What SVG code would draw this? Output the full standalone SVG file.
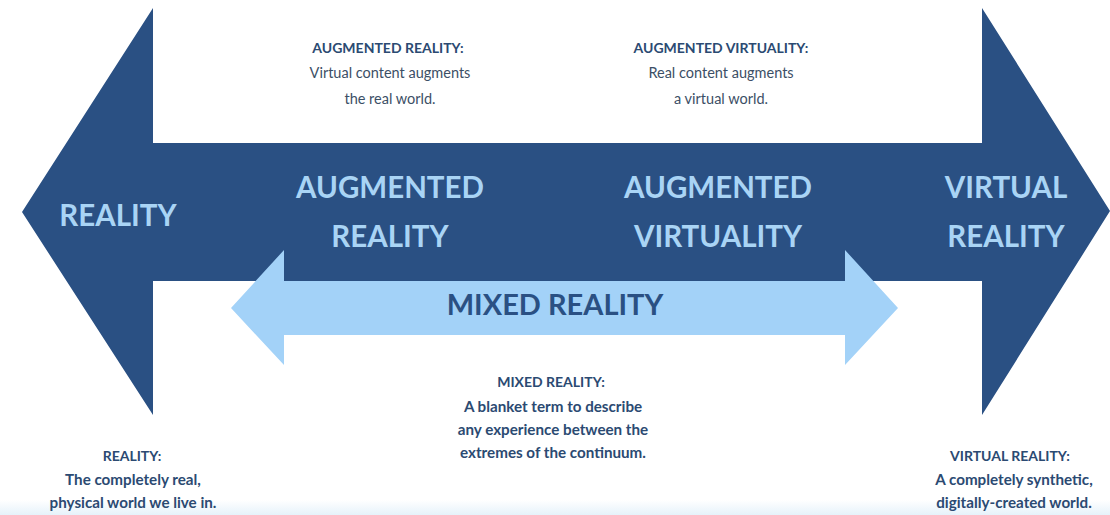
<svg xmlns="http://www.w3.org/2000/svg" width="1110" height="515" viewBox="0 0 1110 515">
<defs>
<linearGradient id="band" x1="0" y1="0" x2="0" y2="1">
<stop offset="0" stop-color="#ffffff"/>
<stop offset="1" stop-color="#e6f2fa"/>
</linearGradient>
</defs>
<style>
.big{font-family:Lato,"Liberation Sans",sans-serif;font-weight:700;font-size:29.5px;fill:#a9d4f5;text-anchor:middle}
.mid{font-family:Lato,"Liberation Sans",sans-serif;font-weight:700;font-size:29px;fill:#2a5083;text-anchor:middle}
.desc{font-family:Lato,"Liberation Sans",sans-serif;font-weight:700;font-size:14px;fill:#2b4a72;text-anchor:middle}
.line{font-family:Lato,"Liberation Sans",sans-serif;font-weight:700;font-size:15.2px;fill:#2b4a72;text-anchor:middle}
.body{font-family:Lato,"Liberation Sans",sans-serif;font-weight:400;font-size:14.5px;fill:#3c4f66;text-anchor:middle}
</style>
<rect x="0" y="0" width="1110" height="515" fill="#ffffff"/>
<rect x="0" y="500" width="1110" height="15" fill="url(#band)"/>
<g id="connectors">
<polygon id="continuum" points="22,212 153,8 153,143 982,143 982,8 1110,211 982,415 982,281 153,281 153,415" fill="#2a5083"/>
<polygon id="mixed-arrow" points="231,308 284,250 284,281 845,281 845,250 898,308 845,365 845,335 284,335 284,365" fill="#a3d2f8"/>
</g>
<g id="node-reality">
<text class="big" x="118" y="226">REALITY</text>
</g>
<g id="node-ar">
<text class="big" x="390" y="198">AUGMENTED</text>
<text class="big" x="390" y="247">REALITY</text>
</g>
<g id="node-av">
<text class="big" x="718" y="198">AUGMENTED</text>
<text class="big" x="718" y="247">VIRTUALITY</text>
</g>
<g id="node-vr">
<text class="big" x="1006" y="198">VIRTUAL</text>
<text class="big" x="1006" y="247">REALITY</text>
</g>
<g id="node-mr">
<text class="mid" x="555" y="315">MIXED REALITY</text>
</g>
<g id="desc-ar">
<text class="desc" x="388" y="53">AUGMENTED REALITY:</text>
<text class="body" x="390" y="78">Virtual content augments</text>
<text class="body" x="390" y="104">the real world.</text>
</g>
<g id="desc-av">
<text class="desc" x="721" y="53">AUGMENTED VIRTUALITY:</text>
<text class="body" x="721" y="78">Real content augments</text>
<text class="body" x="721" y="104">a virtual world.</text>
</g>
<g id="desc-mr">
<text class="desc" x="551" y="387">MIXED REALITY:</text>
<text class="line" x="553" y="412">A blanket term to describe</text>
<text class="line" x="553" y="435">any experience between the</text>
<text class="line" x="553" y="458">extremes of the continuum.</text>
</g>
<g id="desc-reality">
<text class="desc" x="132" y="461">REALITY:</text>
<text class="line" x="133" y="485">The completely real,</text>
<text class="line" x="133" y="508">physical world we live in.</text>
</g>
<g id="desc-vr">
<text class="desc" x="1010" y="461">VIRTUAL REALITY:</text>
<text class="line" x="1014" y="485">A completely synthetic,</text>
<text class="line" x="1014" y="508">digitally-created  world.</text>
</g>
</svg>
